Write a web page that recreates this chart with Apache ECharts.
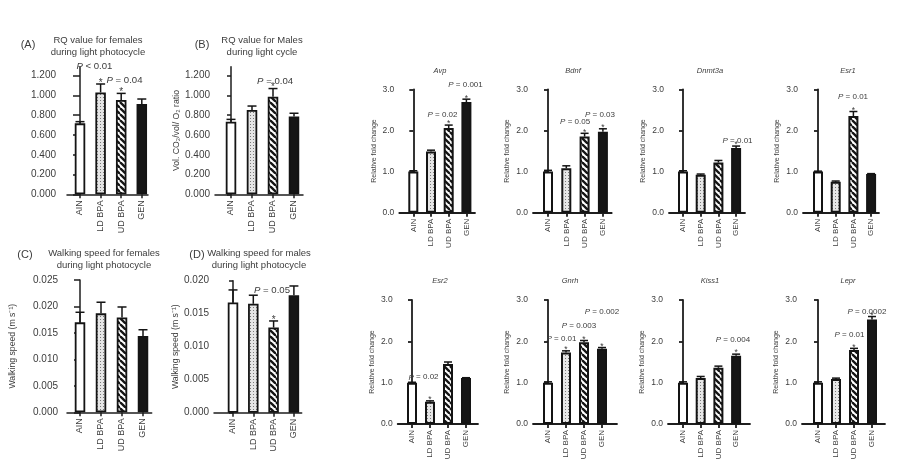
<!DOCTYPE html>
<html><head><meta charset="utf-8">
<script src="https://cdn.jsdelivr.net/npm/echarts@6/dist/echarts.min.js"></script>
<style>html,body{margin:0;padding:0;background:#fff}#c{width:900px;height:470px}</style>
</head><body><div id="c"></div>
<script>
// ---------- DATA ----------
const categories = ['AIN', 'LD BPA', 'UD BPA', 'GEN'];

const rqTicks = [0, 0.2, 0.4, 0.6, 0.8, 1.0, 1.2];
const speedTicksF = [0, 0.005, 0.010, 0.015, 0.020, 0.025];
const speedTicksM = [0, 0.005, 0.010, 0.015, 0.020];
const foldTicks = [0, 1, 2, 3];

const rqFemaleMean = [0.718, 1.031, 0.954, 0.913];
const rqFemaleErr  = [0.017, 0.085, 0.067, 0.051];
const rqFemaleSig  = [0, 1, 1, 0];
const rqFemaleNotes = [['P < 0.01', 0.7, 1.29], ['P = 0.04', 2.16, 1.15]];

const rqMaleMean = [0.735, 0.853, 0.988, 0.786];
const rqMaleErr  = [0.023, 0.040, 0.082, 0.034];
const rqMaleSig  = [0, 0, 1, 0];
const rqMaleNotes = [['P = 0.04', 2.1, 1.14]];

const speedFemaleMean = [0.0170, 0.0187, 0.0179, 0.0144];
const speedFemaleErr  = [0.0019, 0.0021, 0.0020, 0.0012];
const speedFemaleSig  = [0, 0, 0, 0];
const speedFemaleNotes = [];

const speedMaleMean = [0.0167, 0.0165, 0.0129, 0.0178];
const speedMaleErr  = [0.0019, 0.0013, 0.0010, 0.0014];
const speedMaleSig  = [0, 0, 1, 0];
const speedMaleNotes = [['P = 0.05', 1.92, 0.0186]];

const avpMean = [1.00, 1.49, 2.06, 2.69];
const avpErr  = [0.02, 0.03, 0.07, 0.07];
const avpSig  = [0, 0, 1, 1];
const avpNotes = [['P = 0.02', 1.65, 2.39], ['P = 0.001', 2.95, 3.10]];

const bdnfMean = [1.00, 1.08, 1.85, 1.97];
const bdnfErr  = [0.03, 0.06, 0.08, 0.07];
const bdnfSig  = [0, 0, 1, 1];
const bdnfNotes = [['P = 0.05', 1.48, 2.21], ['P = 0.03', 2.84, 2.38]];

const dnmt3aMean = [1.00, 0.92, 1.22, 1.57];
const dnmt3aErr  = [0.02, 0.02, 0.05, 0.05];
const dnmt3aSig  = [0, 0, 0, 1];
const dnmt3aNotes = [['P = 0.01', 3.08, 1.74]];

const esr1Mean = [1.00, 0.75, 2.35, 0.94];
const esr1Err  = [0.01, 0.02, 0.11, 0.01];
const esr1Sig  = [0, 0, 1, 0];
const esr1Notes = [['P = 0.01', 1.98, 2.82]];

const esr2Mean = [1.00, 0.54, 1.45, 1.11];
const esr2Err  = [0.01, 0.02, 0.05, 0.01];
const esr2Sig  = [0, 1, 0, 0];
const esr2Notes = [['P = 0.02', 0.64, 1.13]];

const gnrhMean = [1.00, 1.73, 1.98, 1.82];
const gnrhErr  = [0.02, 0.04, 0.04, 0.03];
const gnrhSig  = [0, 1, 1, 1];
const gnrhNotes = [['P = 0.01', 0.75, 2.07], ['P = 0.003', 1.72, 2.38], ['P = 0.002', 3.0, 2.72]];

const kiss1Mean = [1.00, 1.11, 1.36, 1.65];
const kiss1Err  = [0.02, 0.04, 0.04, 0.04];
const kiss1Sig  = [0, 0, 0, 1];
const kiss1Notes = [['P = 0.004', 2.82, 2.03]];

const leprMean = [1.00, 1.09, 1.79, 2.53];
const leprErr  = [0.02, 0.02, 0.04, 0.07];
const leprSig  = [0, 0, 1, 1];
const leprNotes = [['P = 0.01', 1.75, 2.15], ['P = 0.0002', 2.72, 2.72]];

// ---------- STYLE / LAYOUT ----------
const FONT = "'Liberation Sans', Arial, sans-serif";
const NARROW = "'Liberation Sans Narrow', 'Liberation Sans', Arial, sans-serif";
const TXT = '#3c3c3c';
const AX = '#1e1e1e';

function stripeCanvas() {
  const s = 6, c = document.createElement('canvas');
  c.width = c.height = s;
  const g = c.getContext('2d');
  g.fillStyle = '#fff'; g.fillRect(0, 0, s, s);
  g.strokeStyle = '#151515'; g.lineWidth = 2.3;
  for (let k = -1; k <= 1; k++) { g.beginPath(); g.moveTo(k * s, 0); g.lineTo(k * s + s, s); g.stroke(); }
  return c;
}
function dotCanvas() {
  const s = 3, c = document.createElement('canvas');
  c.width = c.height = s;
  const g = c.getContext('2d');
  g.fillStyle = '#e6e6e6'; g.fillRect(0, 0, s, s);
  g.fillStyle = '#7a7a7a'; g.fillRect(1, 1, 1, 1);
  return c;
}
const fills = ['#ffffff', { image: dotCanvas(), repeat: 'repeat' }, { image: stripeCanvas(), repeat: 'repeat' }, '#161616'];

const panels = [
  { mean: rqFemaleMean, err: rqFemaleErr, sig: rqFemaleSig, notes: rqFemaleNotes, ticks: rqTicks, dec: 3, big: true,
    L: { ax: 67, c0: 80, step: 20.6, xe: 148, y0: 194.3, yt: 66.8, ymax: 1.29, tick: 7, margin: 11 }, yName: '' },
  { mean: rqMaleMean, err: rqMaleErr, sig: rqMaleSig, notes: rqMaleNotes, ticks: rqTicks, dec: 3, big: true,
    L: { ax: 215, c0: 231, step: 21, xe: 303, y0: 194.3, yt: 66.8, ymax: 1.29, tick: 4, margin: 5, gap: 34 }, yName: 'Vol. CO\u2082/vol/ O\u2082 ratio' },
  { mean: speedFemaleMean, err: speedFemaleErr, sig: speedFemaleSig, notes: speedFemaleNotes, ticks: speedTicksF, dec: 3, big: true,
    L: { ax: 67, c0: 80, step: 21, xe: 151.7, y0: 412.3, yt: 280, ymax: 0.025, tick: 6, margin: 9, gap: 50 }, yName: 'Walking speed (m s\u207B\u00B9)' },
  { mean: speedMaleMean, err: speedMaleErr, sig: speedMaleSig, notes: speedMaleNotes, ticks: speedTicksM, dec: 3, big: true,
    L: { ax: 214, c0: 233, step: 20.3, xe: 301.7, y0: 412.7, yt: 280.7, ymax: 0.020, tick: 4, margin: 5, gap: 32 }, yName: 'Walking speed (m s\u207B\u00B9)' },
  { mean: avpMean, err: avpErr, sig: avpSig, notes: avpNotes, ticks: foldTicks, dec: 1,
    L: { ax: 399.3, c0: 413.3, step: 17.7, xe: 475, y0: 212.7, yt: 89.3, ymax: 3 }, yName: 'Relative fold change' },
  { mean: bdnfMean, err: bdnfErr, sig: bdnfSig, notes: bdnfNotes, ticks: foldTicks, dec: 1,
    L: { ax: 533, c0: 548, step: 18.3, xe: 611.7, y0: 212.7, yt: 89.3, ymax: 3 }, yName: 'Relative fold change' },
  { mean: dnmt3aMean, err: dnmt3aErr, sig: dnmt3aSig, notes: dnmt3aNotes, ticks: foldTicks, dec: 1,
    L: { ax: 669, c0: 683, step: 17.7, xe: 745, y0: 212.7, yt: 89.3, ymax: 3 }, yName: 'Relative fold change' },
  { mean: esr1Mean, err: esr1Err, sig: esr1Sig, notes: esr1Notes, ticks: foldTicks, dec: 1,
    L: { ax: 803, c0: 818, step: 17.7, xe: 879, y0: 212.7, yt: 89.3, ymax: 3 }, yName: 'Relative fold change' },
  { mean: esr2Mean, err: esr2Err, sig: esr2Sig, notes: esr2Notes, ticks: foldTicks, dec: 1,
    L: { ax: 397.7, c0: 412, step: 18, xe: 478, y0: 424, yt: 300, ymax: 3 }, yName: 'Relative fold change' },
  { mean: gnrhMean, err: gnrhErr, sig: gnrhSig, notes: gnrhNotes, ticks: foldTicks, dec: 1,
    L: { ax: 533, c0: 548, step: 18, xe: 617, y0: 424, yt: 300, ymax: 3 }, yName: 'Relative fold change' },
  { mean: kiss1Mean, err: kiss1Err, sig: kiss1Sig, notes: kiss1Notes, ticks: foldTicks, dec: 1,
    L: { ax: 668, c0: 683, step: 17.7, xe: 750, y0: 424, yt: 300, ymax: 3 }, yName: 'Relative fold change' },
  { mean: leprMean, err: leprErr, sig: leprSig, notes: leprNotes, ticks: foldTicks, dec: 1,
    L: { ax: 802, c0: 818, step: 18, xe: 885, y0: 424, yt: 300, ymax: 3 }, yName: 'Relative fold change' }
];

const titleTexts = [
  { t: '(A)', x: 28, y: 45, s: 11 },
  { t: 'RQ value for females\nduring light photocycle', x: 98, y: 46, s: 9.5 },
  { t: '(B)', x: 202, y: 45, s: 11 },
  { t: 'RQ value for Males\nduring light cycle', x: 262, y: 46, s: 9.5 },
  { t: '(C)', x: 25, y: 255, s: 11 },
  { t: 'Walking speed for females\nduring light photocycle', x: 104, y: 259.5, s: 9.5 },
  { t: '(D)', x: 197, y: 255, s: 11 },
  { t: 'Walking speed for males\nduring light photocycle', x: 259, y: 259.5, s: 9.5 },
  { t: 'Avp', x: 440, y: 70.5, s: 7.5, it: true },
  { t: 'Bdnf', x: 573, y: 70.5, s: 7.5, it: true },
  { t: 'Dnmt3a', x: 710, y: 70.5, s: 7.5, it: true },
  { t: 'Esr1', x: 848, y: 70.5, s: 7.5, it: true },
  { t: 'Esr2', x: 440, y: 281, s: 7.5, it: true },
  { t: 'Gnrh', x: 570, y: 281, s: 7.5, it: true },
  { t: 'Kiss1', x: 710, y: 281, s: 7.5, it: true },
  { t: 'Lepr', x: 848, y: 281, s: 7.5, it: true }
];

// ---------- BUILD ----------
const grid = [], xAxis = [], yAxis = [], series = [];
const catIdx = categories.map((_, j) => j);

panels.forEach((p, i) => {
  const L = p.L;
  const big = !!p.big;
  const axW = big ? 1.5 : 1.8;
  grid.push({ left: L.ax, top: L.yt, width: L.xe - L.ax, height: L.y0 - L.yt });
  xAxis.push({
    type: 'value', gridIndex: i,
    min: (L.ax - L.c0) / L.step, max: (L.xe - L.c0) / L.step,
    axisLine: { show: true, onZero: false, lineStyle: { color: AX, width: axW } },
    axisTick: { show: true, length: 4, customValues: catIdx, lineStyle: { color: AX, width: axW } },
    axisLabel: { customValues: catIdx, rotate: 90, margin: 6,
      formatter: v => categories[Math.round(v)] || '',
      fontSize: big ? 9 : 8, color: TXT, fontFamily: NARROW },
    splitLine: { show: false }
  });
  yAxis.push({
    type: 'value', gridIndex: i, min: 0, max: L.ymax,
    interval: p.ticks[1] - p.ticks[0],
    axisLine: { show: true, lineStyle: { color: AX, width: axW } },
    axisTick: { show: true, length: L.tick || 4, customValues: p.ticks, lineStyle: { color: AX, width: axW } },
    axisLabel: { customValues: p.ticks, showMaxLabel: true, margin: L.margin || 5,
      formatter: v => Number(v).toFixed(p.dec),
      fontSize: big ? 10 : 8.5, color: TXT, fontFamily: FONT },
    splitLine: { show: false },
    name: p.yName, nameLocation: 'middle', nameGap: L.gap || 22,
    nameTextStyle: { fontSize: big ? 8.7 : 7, color: TXT, fontFamily: FONT }
  });
  series.push({
    type: 'bar', xAxisIndex: i, yAxisIndex: i, barWidth: big ? 10.5 : 10,
    silent: true, animation: false,
    data: p.mean.map((v, j) => ({ value: [j, v], itemStyle: { color: fills[j], borderColor: '#141414', borderWidth: big ? 1.8 : 2 } }))
  });
  series.push({
    type: 'custom', xAxisIndex: i, yAxisIndex: i, silent: true, animation: false, clip: false, z: 5,
    data: p.mean.map((v, j) => [j, v, p.err[j], p.sig[j]]),
    renderItem: (params, api) => {
      const x = api.value(0), v = api.value(1), e = api.value(2), s = api.value(3);
      const a = api.coord([x, v]), b = api.coord([x, v + e]);
      const hw = big ? 4.5 : 4;
      const ch = [
        { type: 'line', shape: { x1: a[0], y1: a[1], x2: b[0], y2: b[1] }, style: { stroke: '#141414', lineWidth: 1.5 } },
        { type: 'line', shape: { x1: b[0] - hw, y1: b[1], x2: b[0] + hw, y2: b[1] }, style: { stroke: '#141414', lineWidth: 1.5 } }
      ];
      if (s) ch.push({ type: 'text', x: b[0], y: b[1] - 1,
        style: { text: '*', align: 'center', verticalAlign: 'middle', fontSize: big ? 10 : 8.5, fontFamily: FONT, fill: TXT } });
      return { type: 'group', children: ch };
    }
  });
  if (p.notes.length) series.push({
    type: 'custom', xAxisIndex: i, yAxisIndex: i, silent: true, animation: false, clip: false, z: 6,
    data: p.notes.map(n => [n[1], n[2]]),
    renderItem: (params, api) => {
      const c = api.coord([api.value(0), api.value(1)]);
      const t = p.notes[params.dataIndex][0];
      const fs = big ? 9.6 : 8;
      return { type: 'text', x: c[0], y: c[1], style: {
        text: '{i|P}{n|' + t.slice(1) + '}', align: 'center', verticalAlign: 'middle',
        rich: { i: { fontStyle: 'italic', fontSize: fs, fontFamily: FONT, fill: TXT },
                n: { fontSize: fs, fontFamily: FONT, fill: TXT } } } };
    }
  });
});

const graphic = titleTexts.map(t => ({
  type: 'text', x: t.x, y: t.y, silent: true,
  style: { text: t.t, align: 'center', verticalAlign: 'middle', fontSize: t.s, lineHeight: t.s + 2.3,
    fontStyle: t.it ? 'italic' : 'normal', fontFamily: FONT, fill: TXT }
}));

const chart = echarts.init(document.getElementById('c'), null, { renderer: 'canvas', width: 900, height: 470 });
chart.setOption({ backgroundColor: '#fff', animation: false, grid, xAxis, yAxis, series, graphic });
</script>
</body></html>
